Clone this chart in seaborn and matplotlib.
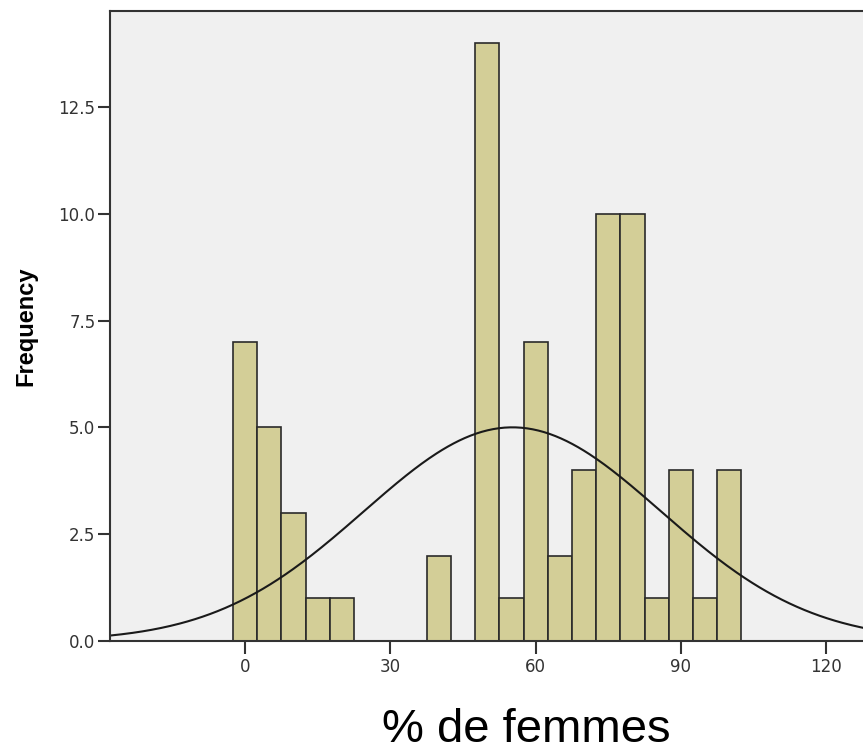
import numpy as np
import pandas as pd
import matplotlib
matplotlib.use("Agg")
import matplotlib.pyplot as plt
import seaborn as sns

# Data
bin_centers = [0, 5, 10, 15, 20, 25, 30, 35, 40, 45, 50, 55, 60, 65, 70, 75, 80, 85, 90, 95, 100]
counts      = [7, 5, 3, 1, 1, 0, 0, 0, 2, 0, 14, 1, 7, 2, 4, 10, 10, 1, 4, 1, 4]
bin_width = 5
curve_mean = 55.2
curve_sd = 30.7
x_ticks = [0, 30, 60, 90, 120]
y_ticks = [0.0, 2.5, 5.0, 7.5, 10.0, 12.5]

sns.set_theme(style="white")
plt.rcParams['font.family'] = ['Liberation Sans', 'DejaVu Sans']

fig = plt.figure(figsize=(8.63, 7.48), dpi=100)
ax = fig.add_axes([0.1275, 0.143, 0.8725, 0.8423])
ax.set_facecolor("#f0f0f0")

df = pd.DataFrame({"pct": bin_centers, "n": counts})
edges = [c - bin_width / 2 for c in bin_centers] + [bin_centers[-1] + bin_width / 2]
sns.histplot(data=df, x="pct", weights="n", bins=edges, ax=ax,
             color="#d3ce97", edgecolor="#2a2a2a", linewidth=1.2, alpha=1.0)

xlim = (-27.9, 127.6)
xs = np.linspace(xlim[0], xlim[1], 400)
n_total = sum(counts)
ys = n_total * bin_width / (curve_sd * np.sqrt(2 * np.pi)) * np.exp(-0.5 * ((xs - curve_mean) / curve_sd) ** 2)
sns.lineplot(x=xs, y=ys, ax=ax, color="#1a1a1a", linewidth=1.5)

ax.set_xlim(*xlim)
ax.set_ylim(0, 14.75)
ax.set_xticks(x_ticks)
ax.set_xticklabels([str(t) for t in x_ticks], family='DejaVu Sans')
ax.set_yticks(y_ticks)
ax.set_yticklabels([f"{t:.1f}" for t in y_ticks], family='DejaVu Sans')
ax.tick_params(axis='both', which='both', direction='out', length=9, width=1.5,
               colors="#333333", labelsize=12, left=True, bottom=True)
ax.tick_params(axis='x', pad=3.5)
ax.tick_params(axis='y', pad=1.5)

for s in ['left', 'bottom', 'top']:
    ax.spines[s].set_visible(True)
    ax.spines[s].set_color("#333333")
    ax.spines[s].set_linewidth(1.5)
ax.spines['right'].set_visible(False)

ax.set_ylabel("Frequency", fontsize=17, fontweight='bold', color='black')
ax.yaxis.set_label_coords(-0.097, 0.5)

ax.set_xlabel("% de femmes", fontsize=34, color='black')
ax.xaxis.set_label_coords(0.5525, -0.161)
ax.xaxis.label.set_verticalalignment('baseline')

fig.savefig("out.png", dpi=100)
